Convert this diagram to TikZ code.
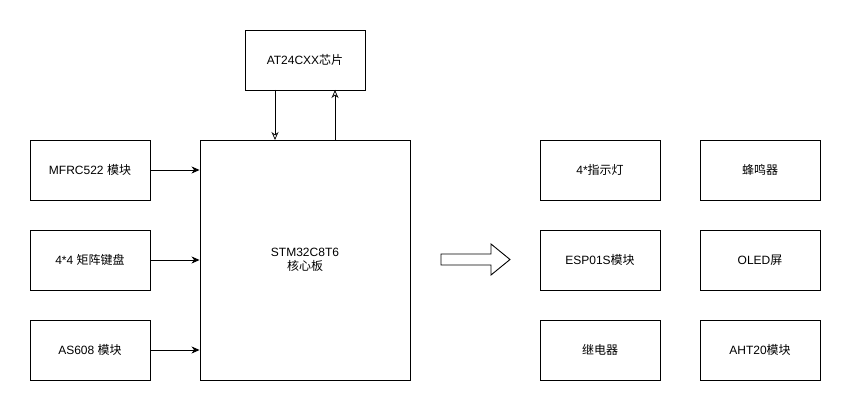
\documentclass[tikz,border=0pt]{standalone}
\usepackage{fontspec}
\setmainfont{Liberation Sans}
\newfontfamily\cjk{Noto Sans CJK SC}
\usetikzlibrary{arrows.meta}
\begin{document}
\begin{tikzpicture}[x=1pt,y=-1pt,line width=0.9pt,
  box/.style={draw,minimum width=120pt,minimum height=60pt,inner sep=0pt,align=center,font=\fontsize{12}{14.5}\selectfont},
  fil/.style={-{Stealth[length=8pt,width=7pt,inset=2.5pt]}},
  opn/.style={-{Stealth[open,length=8pt,width=7pt,inset=2.5pt,fill=white,line width=0.7pt]}}]
\useasboundingbox (0,0) rectangle (851,411);
\node[box] (at) at (305,60) {AT24CXX{\cjk 芯片}};
\node[box,minimum width=210pt,minimum height=240pt] (stm) at (305,260) {STM32C8T6\\{\cjk 核心板}};
\node[box] (mf) at (90,170) {MFRC522 {\cjk 模块}};
\node[box] (kb) at (90,260) {4*4 {\cjk 矩阵键盘}};
\node[box] (as) at (90,350) {AS608 {\cjk 模块}};
\node[box] (led) at (600,170) {4*{\cjk 指示灯}};
\node[box] (esp) at (600,260) {ESP01S{\cjk 模块}};
\node[box] (rel) at (600,350) {{\cjk 继电器}};
\node[box] (bz) at (760,170) {{\cjk 蜂鸣器}};
\node[box] (oled) at (760,260) {OLED{\cjk 屏}};
\node[box] (aht) at (760,350) {AHT20{\cjk 模块}};
\coordinate (a1) at (275,90);
\coordinate (a2) at (275,140);
\coordinate (b1) at (335,140);
\coordinate (b2) at (335,90);
\draw[opn] (a1) -- (a2);
\draw[opn] (b1) -- (b2);
\draw[fil] (mf.east) -- (mf.east -| stm.west);
\draw[fil] (kb.east) -- (kb.east -| stm.west);
\draw[fil] (as.east) -- (as.east -| stm.west);
\draw[line join=miter] (441,254) -- (491,254) -- (491,244) -- (510,259.5) -- (491,275) -- (491,265) -- (441,265) -- cycle;
\end{tikzpicture}
\end{document}
